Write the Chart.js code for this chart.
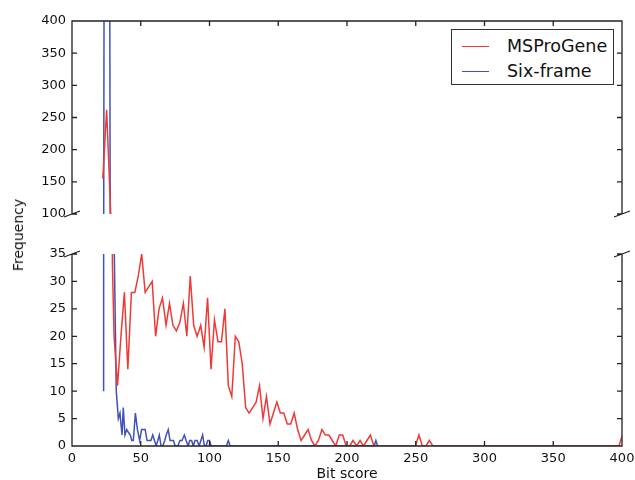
<!DOCTYPE html>
<html>
<head>
<meta charset="utf-8">
<script src="https://cdn.jsdelivr.net/npm/chart.js@4.4.1/dist/chart.umd.min.js"></script>
<style>
  html, body { margin: 0; padding: 0; background: #fff; }
  #wrap { position: relative; width: 635px; height: 480px; font-family: 'DejaVu Sans', sans-serif; }
  canvas { position: absolute; left: 0; top: 0; }
  #ylabel { position: absolute; left: 18px; top: 235px; transform: translate(-50%, -50%) rotate(-90deg);
            font-size: 14px; color: #111; white-space: nowrap; }
  #legend { position: absolute; left: 451px; top: 29px; width: 161px; height: 54px;
            border: 1px solid #333; background: #fff; }
  .row { position: absolute; left: 0; height: 24px; display: flex; align-items: center;
         font-size: 17.5px; color: #111; }
  .swatch { width: 27px; height: 0; border-top: 1.5px solid; margin-left: 10px; margin-right: 18px; }
</style>
</head>
<body>
<div id="wrap">
  <canvas id="top" width="635" height="480"></canvas>
  <canvas id="bottom" width="635" height="480"></canvas>
  <div id="ylabel">Frequency</div>
  <div id="legend">
    <div class="row" style="top:4px"><span class="swatch" style="border-color:#ee3a36"></span>MSProGene</div>
    <div class="row" style="top:29px"><span class="swatch" style="border-color:#4052b8"></span>Six-frame</div>
  </div>
</div>
<script>
// bit score / frequency
const msproScore = [22.4, 25.2, 29.4, 30.6, 33.1, 35.6, 38.1, 40.6, 43.2, 45.7, 48.2, 50.7, 53.2, 55.8, 58.3,
  60.8, 63.3, 65.8, 68.4, 70.9, 73.4, 75.9, 78.4, 81, 83.5, 86, 88.5, 91, 93.6, 96.1, 98.6, 101.1, 103.6,
  106.2, 108.7, 111.2, 113.7, 116.2, 118.8, 121.3, 123.8, 126.3, 128.8, 131.4, 133.9, 136.4, 138.9, 141.4,
  144, 146.5, 149, 151.5, 154, 156.6, 159.1, 161.6, 164.1, 166.6, 169.2, 171.7, 174.2, 176.7, 179.2, 181.8,
  184.3, 186.8, 189.3, 191.8, 194.4, 196.9, 199.4, 201.9, 204.4, 207, 209.5, 212, 214.5, 217, 219.6,
  249.8, 252.3, 254.8, 257.4, 259.9, 262.4, 397.8, 400.3];
const msproFreq = [155, 262, 33, 20, 11, 20, 28, 14, 28, 28, 31, 35, 28, 29, 30,
  20, 25, 27, 22, 26, 22, 21, 22.5, 26, 20, 31, 22, 20, 22, 18, 27, 14, 23,
  19, 19, 25, 11, 9, 20, 19, 15, 7, 6, 7, 8, 11, 5, 9,
  4, 6, 8, 6, 6, 4, 4, 6, 3, 1, 2, 3, 1, 0, 1, 3,
  2, 2, 1, 0, 2, 2, 0, 0, 1, 0, 1, 0, 1, 2, 0,
  0, 2, 0, 0, 1, 0, 0, 2];

const sixScore = [23.0, 24.3, 25.5, 26.6, 27.8, 30.6, 32.2, 33.7, 34.9, 35.6, 36.4, 37.3, 38.5, 39.8, 41,
  42.4, 43.5, 44.6, 46.1, 47.6, 49.2, 50.6, 52, 53.2, 54.6, 56, 57.4, 58.7, 60, 61.2, 62.4, 63.5, 64.8,
  66, 67.5, 68.5, 70, 71.3, 72.5, 73.8, 75, 77, 78.5, 80, 81.7, 83, 84.5, 85.6, 87, 88.2, 89.5, 91,
  92.5, 93.7, 95, 96.3, 97.5, 98.7, 100, 101.2, 112.3, 113.7, 115, 219.8, 221, 222.3];
const sixFreq = [10, 1800, 2500, 1400, 70, 38, 10, 5, 6, 4, 2, 7, 2, 3, 2.5,
  2, 1, 1, 6, 3, 1, 3, 3, 3, 1, 1, 1, 2, 1, 0, 1, 2, 0,
  0, 1, 2, 3, 1, 1, 1, 0, 0, 1, 1, 2, 1, 0, 1, 1, 0, 1, 1,
  0, 1, 2, 0, 0, 1, 1, 0, 0, 1, 0, 0, 1, 0];

const xTicks = [0, 50, 100, 150, 200, 250, 300, 350, 400];
const topTicks = [100, 150, 200, 250, 300, 350, 400];
const bottomTicks = [0, 5, 10, 15, 20, 25, 30, 35];

Chart.defaults.font.family = "'DejaVu Sans', sans-serif";
Chart.defaults.font.size = 13;
Chart.defaults.color = '#111';

function series() {
  return [
    { label: 'MSProGene', data: msproScore.map((x, i) => ({ x: x, y: msproFreq[i] })),
      borderColor: '#ee3a36', borderWidth: 1.5, pointRadius: 0, fill: false, tension: 0 },
    { label: 'Six-frame', data: sixScore.map((x, i) => ({ x: x, y: sixFreq[i] })),
      borderColor: '#4052b8', borderWidth: 1.5, pointRadius: 0, fill: false, tension: 0 }
  ];
}

// spines, inward ticks and the break marks
const frame = {
  id: 'frame',
  afterDraw(chart, args, opts) {
    const ctx = chart.ctx, a = chart.chartArea, sx = chart.scales.x, sy = chart.scales.y;
    ctx.save();
    ctx.strokeStyle = '#222';
    ctx.lineWidth = 1.3;
    ctx.beginPath();
    if (opts.upper) {
      ctx.moveTo(a.left, a.bottom); ctx.lineTo(a.left, a.top);
      ctx.lineTo(a.right, a.top); ctx.lineTo(a.right, a.bottom);
    } else {
      ctx.moveTo(a.left, a.top); ctx.lineTo(a.left, a.bottom);
      ctx.lineTo(a.right, a.bottom); ctx.lineTo(a.right, a.top);
    }
    const edge = opts.upper ? a.top : a.bottom;
    const dir = opts.upper ? 1 : -1;
    xTicks.forEach(v => {
      const px = sx.getPixelForValue(v);
      ctx.moveTo(px, edge); ctx.lineTo(px, edge + dir * 5);
    });
    sy.ticks.forEach(t => {
      const py = sy.getPixelForValue(t.value);
      ctx.moveTo(a.left, py); ctx.lineTo(a.left + 5, py);
      ctx.moveTo(a.right, py); ctx.lineTo(a.right - 5, py);
    });
    const by = opts.upper ? a.bottom : a.top;
    [a.left, a.right].forEach(bx => {
      ctx.moveTo(bx - 8, by + 3); ctx.lineTo(bx + 8, by - 3);
    });
    ctx.stroke();
    ctx.restore();
  }
};

new Chart(document.getElementById('top'), {
  type: 'line',
  data: { datasets: series() },
  plugins: [frame],
  options: {
    responsive: false, animation: false, events: [],
    layout: { autoPadding: false, padding: { top: 21, left: 0, right: 13, bottom: 266 } },
    plugins: { legend: { display: false }, tooltip: { enabled: false }, frame: { upper: true } },
    scales: {
      x: { type: 'linear', min: 0, max: 400, display: false },
      y: {
        min: 100, max: 400,
        grid: { display: false, drawTicks: false }, border: { display: false },
        ticks: { padding: 6 },
        afterBuildTicks: s => { s.ticks = topTicks.map(v => ({ value: v })); },
        afterFit: s => { s.width = 72; }
      }
    }
  }
});

new Chart(document.getElementById('bottom'), {
  type: 'line',
  data: { datasets: series() },
  plugins: [frame],
  options: {
    responsive: false, animation: false, events: [],
    layout: { autoPadding: false, padding: { top: 254, left: 0, right: 13, bottom: 0 } },
    plugins: { legend: { display: false }, tooltip: { enabled: false }, frame: { upper: false } },
    scales: {
      x: {
        type: 'linear', min: 0, max: 400,
        // tick marks are drawn by the frame plugin; the hidden length only spaces the labels
        grid: { display: false, drawTicks: true, tickLength: 5 }, border: { display: false },
        ticks: { padding: 0, maxRotation: 0 },
        afterBuildTicks: s => { s.ticks = xTicks.map(v => ({ value: v })); },
        title: { display: true, text: 'Bit score', font: { size: 14 }, padding: { top: 0, bottom: -3 } },
        afterFit: s => { s.height = 34; }
      },
      y: {
        min: 0, max: 35,
        grid: { display: false, drawTicks: false }, border: { display: false },
        ticks: { padding: 6 },
        afterBuildTicks: s => { s.ticks = bottomTicks.map(v => ({ value: v })); },
        afterFit: s => { s.width = 72; }
      }
    }
  }
});
</script>
</body>
</html>
